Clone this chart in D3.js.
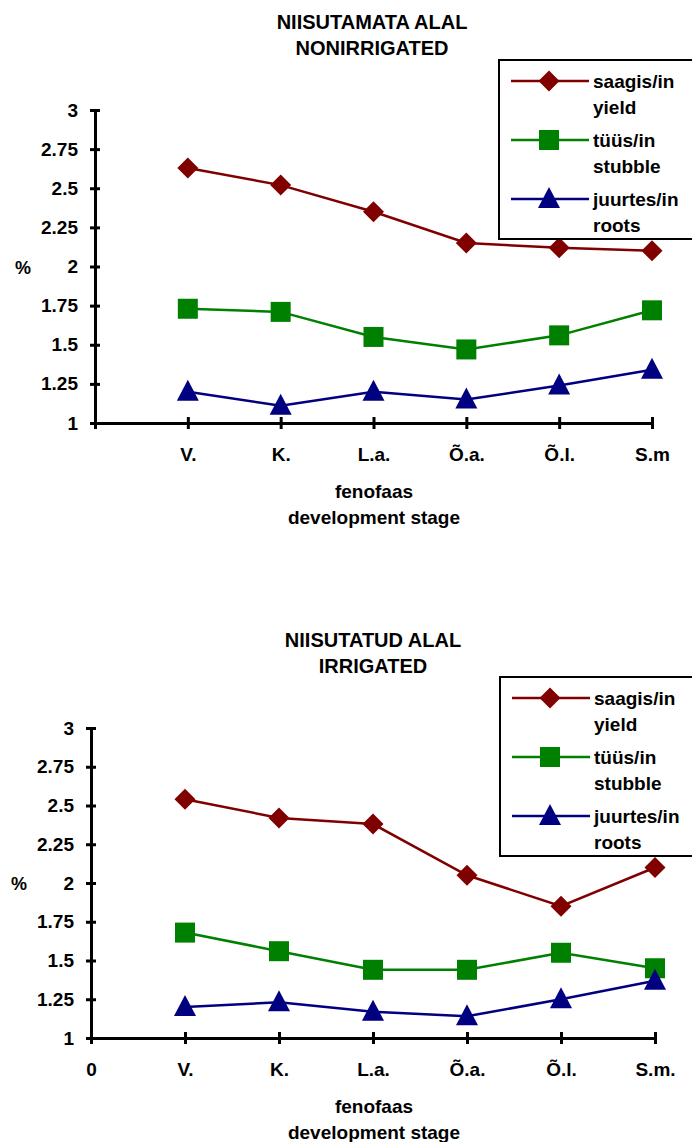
<!DOCTYPE html>
<html><head><meta charset="utf-8">
<script src="https://cdn.jsdelivr.net/npm/d3@7"></script>
<style>
html,body{margin:0;padding:0;background:#fff;}
svg{display:block;font-family:"Liberation Sans",Arial,sans-serif;font-weight:bold;}
</style></head>
<body>
<svg id="chart" width="692" height="1142"></svg>
<script>
// ---- data ----
const categories = ["V.", "K.", "L.a.", "Õ.a.", "Õ.l.", "S.m"];
const categoriesIrr = ["V.", "K.", "L.a.", "Õ.a.", "Õ.l.", "S.m."];
const yTicks = [1, 1.25, 1.5, 1.75, 2, 2.25, 2.5, 2.75, 3];
const seriesNames = [["saagis/in", "yield"], ["tüüs/in", "stubble"], ["juurtes/in", "roots"]];
const seriesColors = ["#800000", "#008000", "#000080"];
const seriesShapes = ["diamond", "square", "triangle"];

// nonirrigated
const nonSaagis  = [2.63, 2.52, 2.35, 2.15, 2.12, 2.10];
const nonTyys    = [1.73, 1.71, 1.55, 1.47, 1.56, 1.72];
const nonJuurtes = [1.20, 1.11, 1.20, 1.15, 1.24, 1.34];
// irrigated
const irrSaagis  = [2.54, 2.42, 2.38, 2.05, 1.85, 2.10];
const irrTyys    = [1.68, 1.56, 1.44, 1.44, 1.55, 1.45];
const irrJuurtes = [1.20, 1.23, 1.17, 1.14, 1.25, 1.37];

const FS = 19;
const svg = d3.select("#chart");

function marker(g, shape, color, x, y) {
  if (shape === "diamond") {
    g.append("path").attr("d", `M${x},${y-10.5}L${x+10.5},${y}L${x},${y+10.5}L${x-10.5},${y}Z`).attr("fill", color);
  } else if (shape === "square") {
    g.append("rect").attr("x", x-10).attr("y", y-10).attr("width", 20).attr("height", 20).attr("fill", color);
  } else {
    g.append("path").attr("d", `M${x},${y-12}L${x+11},${y+9}L${x-11},${y+9}Z`).attr("fill", color);
  }
}

function panel(opt) {
  const g = svg.append("g");
  const x = d3.scaleLinear().domain([0, 6]).range([opt.x0, opt.x1]);
  const y = d3.scaleLinear().domain([1, 3]).range([opt.yb, opt.yt]);

  // titles
  g.append("text").attr("x", opt.titleX).attr("y", opt.titleY).attr("text-anchor", "middle")
    .attr("font-size", 20).text(opt.title[0]);
  g.append("text").attr("x", opt.titleX).attr("y", opt.titleY + 26).attr("text-anchor", "middle")
    .attr("font-size", 20).text(opt.title[1]);

  // y axis
  const ya = g.append("g").attr("transform", `translate(${opt.x0},0)`)
    .call(d3.axisLeft(y).tickValues(yTicks).tickFormat(d => String(d)).tickSize(5).tickSizeOuter(0));
  ya.select(".domain").attr("stroke", "#000").attr("stroke-width", 3);
  ya.selectAll(".tick line").attr("stroke", "#000").attr("stroke-width", 3).attr("x2", -5).attr("x1", 5);
  ya.selectAll(".tick text").attr("font-size", FS).attr("font-family", "Liberation Sans, Arial, sans-serif")
    .attr("font-weight", "bold").attr("fill", "#000").attr("x", -17);

  // x axis
  const xTickVals = d3.range(0, 7);
  const xa = g.append("g").attr("transform", `translate(0,${opt.yb})`)
    .call(d3.axisBottom(x).tickValues(xTickVals).tickSize(6).tickSizeOuter(0)
      .tickFormat(d => d === 0 ? (opt.showZero ? "0" : "") : opt.cats[d-1]));
  xa.select(".domain").attr("stroke", "#000").attr("stroke-width", 3);
  xa.selectAll(".tick line").attr("stroke", "#000").attr("stroke-width", 3).attr("y1", -6).attr("y2", 6);
  xa.selectAll(".tick text").attr("font-size", FS).attr("font-family", "Liberation Sans, Arial, sans-serif")
    .attr("font-weight", "bold").attr("fill", "#000").attr("dy", null).attr("y", 38);

  // y label
  g.append("text").attr("x", opt.pctX).attr("y", y(2) + 7).attr("text-anchor", "middle")
    .attr("font-size", 18).text("%");

  // x label
  g.append("text").attr("x", opt.xlabX).attr("y", opt.yb + 75).attr("text-anchor", "middle")
    .attr("font-size", FS).text("fenofaas");
  g.append("text").attr("x", opt.xlabX).attr("y", opt.yb + 101).attr("text-anchor", "middle")
    .attr("font-size", FS).text("development stage");

  // series
  const line = d3.line().x((d, i) => x(i + 1)).y(d => y(d));
  opt.series.forEach((vals, si) => {
    g.append("path").datum(vals).attr("d", line).attr("fill", "none")
      .attr("stroke", seriesColors[si]).attr("stroke-width", 2.5);
    vals.forEach((v, i) => marker(g, seriesShapes[si], seriesColors[si], x(i + 1), y(v)));
  });

  // legend
  const lg = g.append("g");
  lg.append("rect").attr("x", opt.legX).attr("y", opt.legY).attr("width", 700 - opt.legX).attr("height", 179)
    .attr("fill", "#fff").attr("stroke", "#000").attr("stroke-width", 2);
  seriesNames.forEach((nm, si) => {
    const cy = opt.legY + 21 + si * 59;
    lg.append("line").attr("x1", opt.legX + 12).attr("x2", opt.legX + 90).attr("y1", cy).attr("y2", cy)
      .attr("stroke", seriesColors[si]).attr("stroke-width", 2.5);
    marker(lg, seriesShapes[si], seriesColors[si], opt.legX + 50, cy);
    lg.append("text").attr("x", opt.legX + 94).attr("y", cy + 7).attr("font-size", FS).text(nm[0]);
    lg.append("text").attr("x", opt.legX + 94).attr("y", cy + 33).attr("font-size", FS).text(nm[1]);
  });
}

panel({
  x0: 95, x1: 652, yt: 110, yb: 423,
  title: ["NIISUTAMATA ALAL", "NONIRRIGATED"], titleX: 372, titleY: 29,
  cats: categories, showZero: false, pctX: 23, xlabX: 374,
  legX: 499, legY: 60,
  series: [nonSaagis, nonTyys, nonJuurtes]
});

panel({
  x0: 91, x1: 655, yt: 728, yb: 1038,
  title: ["NIISUTATUD ALAL", "IRRIGATED"], titleX: 373, titleY: 647,
  cats: categoriesIrr, showZero: true, pctX: 19, xlabX: 374,
  legX: 500, legY: 677,
  series: [irrSaagis, irrTyys, irrJuurtes]
});
</script>
</body></html>
